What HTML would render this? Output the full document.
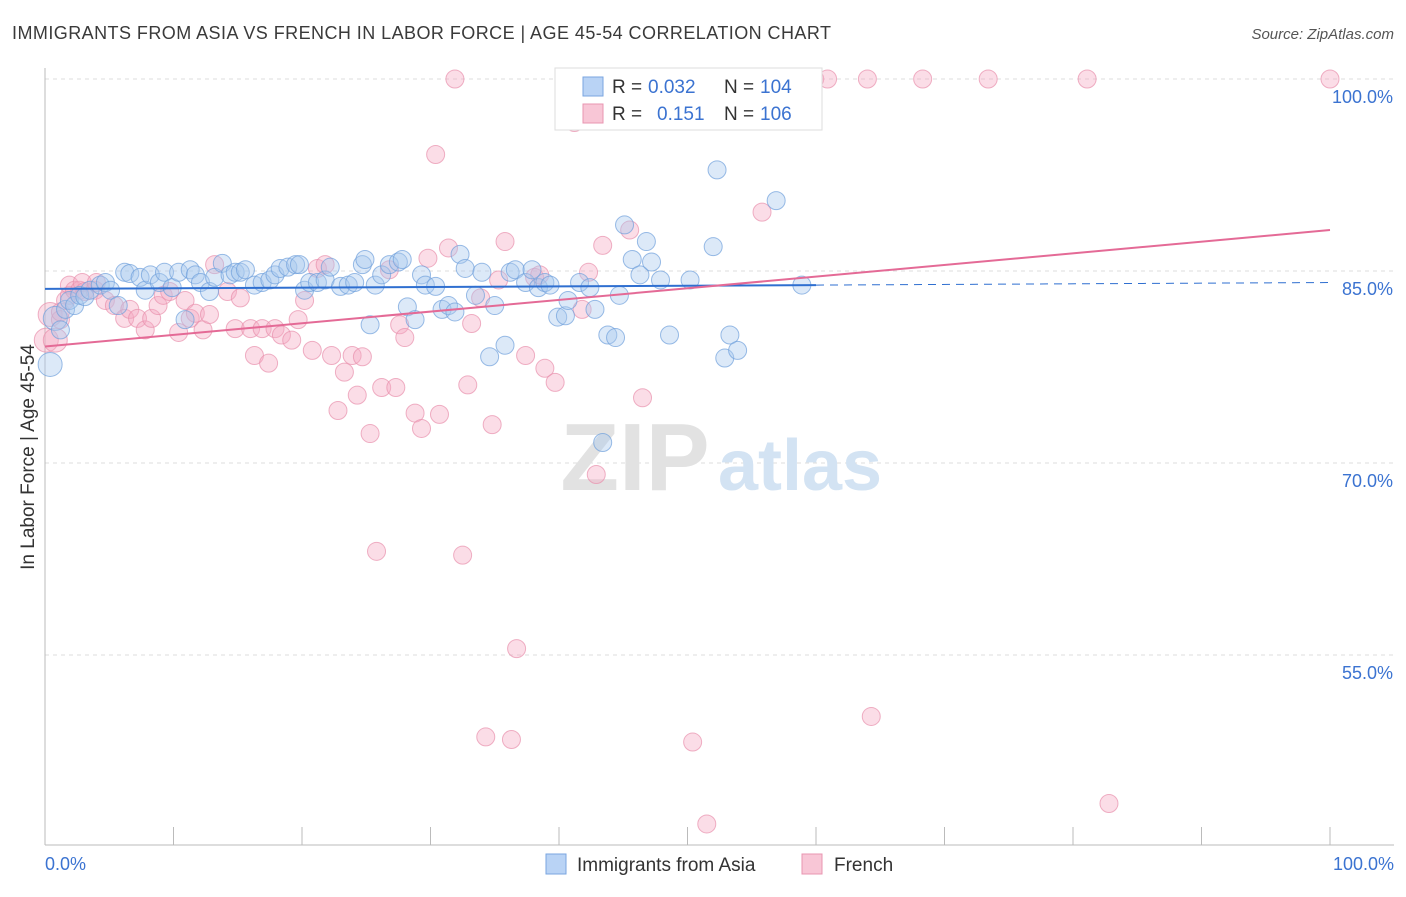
<!DOCTYPE html>
<html><head><meta charset="utf-8"><style>
body{margin:0;background:#fff;font-family:"Liberation Sans",sans-serif;}
svg text{font-family:"Liberation Sans",sans-serif;}
</style></head><body>
<svg id="chart" width="1406" height="892" viewBox="0 0 1406 892">
<text x="12" y="39" font-size="18" fill="#3a3a3a" textLength="819" lengthAdjust="spacing">IMMIGRANTS FROM ASIA VS FRENCH IN LABOR FORCE | AGE 45-54 CORRELATION CHART</text>
<text x="1394" y="39" font-size="15" fill="#555" font-style="italic" text-anchor="end">Source: ZipAtlas.com</text>
<text transform="translate(34,457) rotate(-90)" font-size="19" fill="#333" text-anchor="middle">In Labor Force | Age 45-54</text>
<g id="grid"></g>
<g>
<text x="635" y="490" font-size="96" fill="#e2e2e2" font-family="Liberation Serif" text-anchor="middle" font-weight="bold">ZIP</text>
<text x="800" y="490" font-size="72" fill="#d3e3f3" text-anchor="middle" font-weight="bold">atlas</text>
</g>
<g id="pts"></g>
<g id="trends"></g>
<g>
<rect x="555" y="68" width="267" height="62" fill="#fff" stroke="#ddd"/>
<rect x="583" y="77" width="20" height="19" fill="#b9d3f5" stroke="#7aa6e0"/>
<rect x="583" y="104" width="20" height="19" fill="#f8c6d6" stroke="#e895b0"/>
<text x="612" y="93" font-size="19" fill="#333">R =</text>
<text x="648" y="93" font-size="19" fill="#3b73d1">0.032</text>
<text x="724" y="93" font-size="19" fill="#333">N =</text>
<text x="760" y="93" font-size="19" fill="#3b73d1">104</text>
<text x="612" y="120" font-size="19" fill="#333">R =</text>
<text x="657" y="120" font-size="19" fill="#3b73d1">0.151</text>
<text x="724" y="120" font-size="19" fill="#333">N =</text>
<text x="760" y="120" font-size="19" fill="#3b73d1">106</text>
</g>
<g>
<rect x="546" y="854" width="20" height="20" fill="#b9d3f5" stroke="#7aa6e0"/>
<text x="577" y="871" font-size="19" fill="#333">Immigrants from Asia</text>
<rect x="802" y="854" width="20" height="20" fill="#f8c6d6" stroke="#e895b0"/>
<text x="834" y="871" font-size="19" fill="#333">French</text>
</g>
</svg>
<script>
const yTicks=[55,70,85,100];
const yTickLabels=["55.0%","70.0%","85.0%","100.0%"];
const xTickLabels=["0.0%","100.0%"];
const blueX=[0.4,0.8,1.2,1.6,1.9,2.3,2.7,3.1,3.5,4.3,4.7,5.1,5.7,6.2,6.6,7.4,7.8,8.2,8.9,9.3,9.9,10.4,10.9,11.3,11.7,12.1,12.8,13.2,13.8,14.4,14.8,15.2,15.6,16.3,16.9,17.5,17.9,18.3,18.9,19.5,19.8,20.2,20.6,21.2,21.8,22.2,23.0,23.6,24.1,24.7,24.9,25.3,25.7,26.2,26.8,27.5,27.8,28.2,28.8,29.3,29.6,30.4,30.9,31.4,31.9,32.3,32.7,33.5,34.0,34.6,35.0,35.8,36.2,36.6,37.4,37.9,38.4,38.9,39.3,39.9,40.5,40.7,41.6,42.4,42.8,43.4,43.8,44.4,44.7,45.1,45.7,46.3,46.8,47.2,47.9,48.6,50.2,52.0,52.3,52.9,53.3,53.9,56.9,58.9];
const blueY=[77.7,81.3,80.4,82.0,82.7,82.3,83.1,83.0,83.5,83.9,84.1,83.5,82.3,84.9,84.8,84.5,83.5,84.7,84.1,84.9,83.7,84.9,81.2,85.1,84.7,84.1,83.4,84.5,85.6,84.7,84.9,84.9,85.1,83.9,84.1,84.3,84.7,85.2,85.3,85.5,85.5,83.5,84.1,84.1,84.3,85.3,83.8,83.9,84.1,85.5,85.9,80.8,83.9,84.7,85.5,85.7,85.9,82.2,81.2,84.7,83.9,83.8,82.0,82.3,81.8,86.3,85.2,83.1,84.9,78.3,82.3,79.2,84.9,85.1,84.1,85.1,83.7,84.1,83.9,81.4,81.5,82.7,84.1,83.7,82.0,71.6,80.0,79.8,83.1,88.6,85.9,84.7,87.3,85.7,84.3,80.0,84.3,86.9,92.9,78.2,80.0,78.8,90.5,83.9];
const pinkX=[0.1,0.4,0.8,1.2,1.2,1.6,1.9,1.9,2.3,2.7,2.9,3.1,3.9,4.0,4.7,5.4,6.2,6.6,7.2,7.8,8.3,8.8,9.2,9.7,10.4,10.9,11.3,11.7,12.3,12.8,13.2,14.2,14.8,15.2,16.0,16.3,16.9,17.4,17.9,18.4,19.2,19.7,20.2,20.8,21.2,21.8,22.3,22.8,23.3,23.9,24.3,24.7,25.3,25.8,26.2,26.8,27.3,27.6,28.0,28.8,29.3,29.8,30.4,30.7,31.4,31.9,32.5,32.9,33.2,33.9,34.3,34.8,35.3,35.8,36.3,36.7,37.4,38.1,38.5,38.9,39.7,40.5,41.2,41.8,42.3,42.9,43.4,45.5,46.5,49.0,50.4,51.5,52.5,55.8,59.9,60.9,64.0,64.3,68.3,73.4,81.1,82.8,100];
const pinkY=[79.6,81.6,79.6,81.2,81.8,82.7,83.1,83.9,83.5,83.5,84.1,83.4,83.5,84.1,82.7,82.3,81.3,82.0,81.3,80.4,81.3,82.3,83.1,83.4,80.2,82.7,81.3,81.7,80.4,81.6,85.5,83.4,80.5,82.9,80.5,78.4,80.5,77.8,80.5,80.0,79.6,81.2,82.7,78.8,85.2,85.5,78.4,74.1,77.1,78.4,75.3,78.3,72.3,63.1,75.9,85.1,75.9,80.8,79.8,73.9,72.7,86.0,94.1,73.8,86.8,100,62.8,76.1,80.9,82.9,48.6,73.0,84.3,87.3,48.4,55.5,78.4,84.5,84.7,77.4,76.3,100,96.6,82.0,84.9,69.1,87.0,88.2,75.1,100,48.2,41.8,100,89.6,100,100,100,50.2,100,100,100,43.4,100];
const blueTrend=[83.6,84.1];
const pinkTrend=[79.1,88.2];
const blueSolidEnd=60;

const NS="http://www.w3.org/2000/svg";
const X0=45,X1=1330,YB=845;
function sx(v){return X0+(X1-X0)*v/100;}
function sy(v){return 79+(100-v)*12.8;}
function mk(tag,attrs,parent){const e=document.createElementNS(NS,tag);for(const k in attrs)e.setAttribute(k,attrs[k]);parent.appendChild(e);return e;}
const grid=document.getElementById('grid');
yTicks.forEach((t,i)=>{
  const l=mk('line',{x1:X0,x2:1394,y1:sy(t),y2:sy(t),stroke:'#ddd','stroke-dasharray':'4,4'},grid);
  
  
  const tx=mk('text',{x:1393,y:sy(t)+24,'font-size':18,fill:'#3b73d1','text-anchor':'end'},grid);
  tx.textContent=yTickLabels[i];
  
  
});
const ax=mk('line',{x1:X0,x2:1394,y1:YB,y2:YB,stroke:'#bbb'},grid);


const ay=mk('line',{x1:X0,x2:X0,y1:68,y2:YB,stroke:'#bbb'},grid);


for(let i=0;i<=10;i++){
  const t=mk('line',{x1:sx(i*10),x2:sx(i*10),y1:YB,y2:YB-18,stroke:'#bbb'},grid);
  
  
}
[[0,'start',45],[100,'end',1394]].forEach((p,i)=>{
  const tx=mk('text',{x:p[2],y:870,'font-size':18,fill:'#3b73d1','text-anchor':p[1]},grid);
  tx.textContent=xTickLabels[i];
  
  
});
const pts=document.getElementById('pts');
function draw(xs,ys,fill,stroke,name){
  xs.forEach((x,i)=>{
    const r=(x<1)?12:9;
    const c=mk('circle',{cx:sx(x),cy:sy(ys[i]),r:r,fill:fill,'fill-opacity':0.4,stroke:stroke,'stroke-opacity':0.7,'stroke-width':1},pts);
    
    
  });
}
draw(pinkX,pinkY,'#f4aac2','#e890ad','point-french');
draw(blueX,blueY,'#a8c8ee','#6f9fdc','point-asia');
const tr=document.getElementById('trends');
function ty(tr,x){return tr[0]+(tr[1]-tr[0])*x/100;}
const b1=mk('line',{x1:sx(0),y1:sy(ty(blueTrend,0)),x2:sx(blueSolidEnd),y2:sy(ty(blueTrend,blueSolidEnd)),stroke:'#2f6fd0','stroke-width':2},tr);


const b2=mk('line',{x1:sx(blueSolidEnd),y1:sy(ty(blueTrend,blueSolidEnd)),x2:sx(100),y2:sy(ty(blueTrend,100)),stroke:'#2f6fd0','stroke-width':1,'stroke-dasharray':'8,6'},tr);


const p1=mk('line',{x1:sx(0),y1:sy(ty(pinkTrend,0)),x2:sx(100),y2:sy(ty(pinkTrend,100)),stroke:'#e46a96','stroke-width':2},tr);


</script>
</body></html>
